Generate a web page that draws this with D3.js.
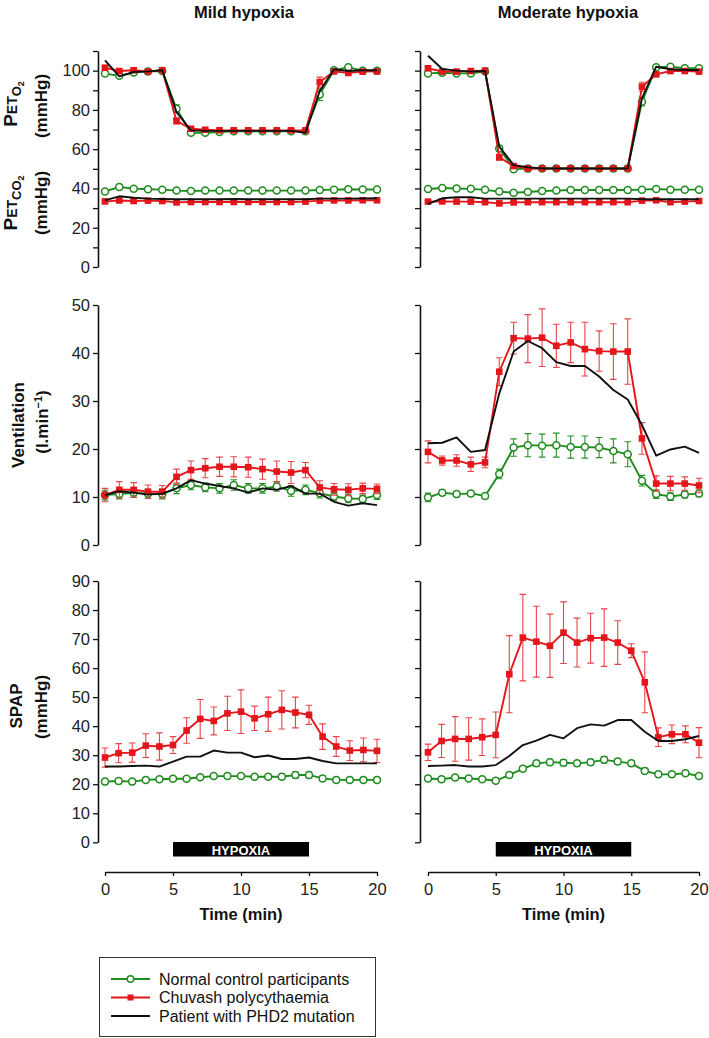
<!DOCTYPE html>
<html><head><meta charset="utf-8">
<script src="https://cdn.jsdelivr.net/npm/d3@7"></script>
<style>
body{margin:0;background:#fff;}
svg{display:block;font-family:"Liberation Sans",Arial,sans-serif;}
</style></head>
<body>
<script>
// ---------- DATA ----------
const timeGas = [0,1.05,2.11,3.16,4.21,5.26,6.32,7.37,8.42,9.47,10.53,11.58,12.63,13.68,14.74,15.79,16.84,17.89,18.95,20];
const timeSpap = [0,1,2,3,4,5,6,7,8,9,10,11,12,13,14,15,16,17,18,19,20];
const xTicks = [0,5,10,15,20];
const columnTitles = ["Mild hypoxia","Moderate hypoxia"];
const seriesNames = ["Normal control participants","Chuvash polycythaemia","Patient with PHD2 mutation"];

// Mild hypoxia
const mildPetO2Control = [98.5,97.4,99,99.6,99.8,80.6,68.4,68.4,68.7,69.1,69.1,69.1,69.1,69.1,69.1,87.8,100.2,101.7,100,100];
const mildPetO2ControlErr = [0.8,0.8,0.6,0.5,0.5,2,0.6,0.5,0.5,0.5,0.5,0.5,0.5,0.5,0.5,3,0.8,0.6,0.5,0.5];
const mildPetO2Chuvash = [101.5,99.8,100.2,99.6,100.2,74.4,70.4,69.9,69.6,69.6,69.6,69.6,69.6,69.6,69.6,94.2,99.6,98.8,99.5,99.6];
const mildPetO2ChuvashErr = [1,0.6,0.5,0.5,0.5,1.5,0.8,0.5,0.5,0.5,0.5,0.5,0.5,0.5,0.5,2.5,0.8,0.6,0.5,0.5];
const mildPetO2Phd2 = [105.2,97.1,99.3,99.6,100.2,78.9,69.6,69.3,69.3,69.3,69.3,69.3,69.3,69.3,68.4,89.6,100.7,99.8,100.2,100.2];

const mildPetCO2Control = [38.5,40.7,39.9,39.6,39.4,38.9,38.7,38.9,38.9,38.9,38.9,38.9,38.9,38.9,38.9,39.2,39.4,39.6,39.5,39.5];
const mildPetCO2ControlErr = [0.6,0.6,0.6,0.5,0.5,0.5,0.5,0.5,0.5,0.5,0.5,0.5,0.5,0.5,0.5,0.5,0.5,0.5,0.5,0.5];
const mildPetCO2Chuvash = [33.4,33.9,33.6,33.8,33.6,32.9,33.1,33.1,33.1,33.1,33.1,33.1,33.1,33.1,33.3,33.8,33.9,33.9,34,34];
const mildPetCO2ChuvashErr = [0.6,0.6,0.6,0.5,0.5,0.5,0.5,0.5,0.5,0.5,0.5,0.5,0.5,0.5,0.5,0.5,0.5,0.5,0.5,0.5];
const mildPetCO2Phd2 = [33.9,36,35.3,34.8,34.6,34.5,34.5,34.5,34.5,34.6,34.5,34.5,34.5,34.5,34.5,34.8,34.8,34.8,34.9,35];

const mildVentControl = [10.4,10.6,10.9,10.7,10.6,11.8,12.5,12,11.8,12.5,11.8,11.8,12.2,11.25,11.5,10.8,10.1,9.7,9.6,10.4];
const mildVentControlErr = [1,1,1,0.9,1,1.1,1,0.9,1,1.1,1,1,1,1.1,1,1,0.9,0.9,0.8,0.9];
const mildVentChuvash = [10.4,11.5,11.5,11.1,11.1,14.2,15.6,16,16.3,16.3,16.2,15.8,15.3,15.1,15.6,12,11.6,11.5,11.8,11.7];
const mildVentChuvashErr = [1.4,1.7,1.5,1.4,1.3,1.6,1.9,2,2,2.1,2.1,2.1,2.2,2.3,1.6,1.4,1.2,1.25,1.1,1];
const mildVentPhd2 = [10.4,11.2,10.9,10.5,10.7,11.8,13.5,12.8,12.3,11.8,10.9,11.8,11.5,12.3,10.7,10.7,9,8.2,8.7,8.3];

const mildSpapControl = [20.9,21.1,20.9,21.5,21.7,21.9,21.9,22.4,22.8,22.8,22.8,22.6,22.6,22.6,23.2,23.2,22,21.5,21.5,21.5,21.5];
const mildSpapControlErr = [0.8,0.9,0.7,0.7,0.7,0.7,0.7,0.7,0.7,0.7,0.7,0.7,0.8,0.9,1,1,0.8,0.7,0.7,0.7,0.7];
const mildSpapChuvash = [29.2,30.7,30.9,33.3,33,33.5,38.5,42.5,41.8,44.4,45,42.7,44.1,45.6,44.7,43.9,36.4,33,31.6,31.8,31.5];
const mildSpapChuvashErr = [3.3,3.3,3.3,4.1,4.7,2.9,4.4,6.7,4.8,5.9,7.5,4.2,5.9,6.6,5.3,3.3,4.4,3.4,3.4,4.1,4];
const mildSpapPhd2 = [26.1,26.1,26.3,26.4,26.1,27.8,29.5,29.5,31.6,30.9,30.9,29.3,29.9,28.7,28.7,29.2,28,27.2,27.2,27.2,27.2];

// Moderate hypoxia
const modPetO2Control = [98.6,98.9,98.6,98.6,99.5,60.4,49.8,50.1,50.2,50.2,50.2,50.2,50.2,50.2,50.2,84.2,101.7,102,101.2,101.2];
const modPetO2ControlErr = [0.8,0.6,0.5,0.5,0.5,1.5,0.6,0.5,0.5,0.5,0.5,0.5,0.5,0.5,0.5,2.2,0.6,0.5,0.5,0.5];
const modPetO2Chuvash = [101.2,99.5,99.5,99.8,100,55.9,51.4,50.2,50.2,50.2,50.2,50.2,50.2,50.2,50.2,91.8,98.1,99.8,99.8,99.5];
const modPetO2ChuvashErr = [1,0.6,0.5,0.5,0.5,1.5,0.8,0.5,0.5,0.5,0.5,0.5,0.5,0.5,0.5,2.3,0.8,0.5,0.5,0.5];
const modPetO2Phd2 = [107.6,100.8,100,99.5,99.8,61.3,51.9,50.8,50.2,50.2,50.2,50.2,50.2,50.2,50.2,85.9,102,100.7,100.3,100.3];

const modPetCO2Control = [39.7,40.2,40,39.8,39.3,38.4,37.8,38.2,38.7,38.9,39.2,39.2,39.2,39.2,39.2,39.4,39.7,39.4,39.4,39.4];
const modPetCO2ControlErr = [0.6,0.6,0.5,0.5,0.5,0.5,0.5,0.5,0.5,0.5,0.5,0.5,0.5,0.5,0.5,0.5,0.5,0.5,0.5,0.5];
const modPetCO2Chuvash = [33.3,33.4,33.3,33.3,33,32.4,32.9,33,33,33,33,33,33,33,33,33.8,34,33,33.3,33.6];
const modPetCO2ChuvashErr = [0.6,0.6,0.5,0.5,0.5,0.5,0.5,0.5,0.5,0.5,0.5,0.5,0.5,0.5,0.5,0.5,0.5,0.5,0.5,0.5];
const modPetCO2Phd2 = [32.1,35,35.5,35.5,34.8,34.8,34.8,34.8,34.8,34.8,34.8,34.8,34.8,34.8,34.8,34.5,34.5,34.5,34.5,34.5];

const modVentControl = [9.9,10.9,10.6,10.75,10.2,14.8,20.3,20.8,20.7,20.8,20.4,20.4,20.3,19.6,18.9,13.4,10.6,10.1,10.5,10.75];
const modVentControlErr = [0.9,0.6,0.5,0.5,0.5,1,1.8,2.4,2.4,2.5,2.3,2.3,2.1,2.5,2.6,1.1,0.9,0.8,0.7,0.7];
const modVentChuvash = [19.4,17.6,17.6,16.8,17.2,36.1,43.1,43,43.2,41.5,42.2,40.8,40.4,40.3,40.3,22.2,12.8,12.8,12.8,12.4];
const modVentChuvashErr = [2.3,0.95,1.2,1.5,1.1,2.9,3.3,5,6,4.5,4.2,5.6,4.2,5.8,6.8,3.3,1.6,1.5,1.4,1.5];
const modVentPhd2 = [21.2,21.3,22.4,19.4,19.8,31.6,40.3,42.5,41,38.1,37.3,37.3,35.1,32.3,30.3,25,18.6,19.9,20.5,19.2];

const modSpapControl = [22,21.7,22.3,22,21.7,21.2,23.2,25.3,27.2,27.6,27.4,27.2,27.6,28.4,27.8,27.2,24.6,23.4,23.4,23.8,22.8];
const modSpapControlErr = [0.8,0.8,0.7,0.7,0.7,0.7,0.8,0.9,1,1,1,1,1,1.1,1,1,0.9,0.8,0.8,0.8,0.8];
const modSpapChuvash = [31,34.9,35.6,35.6,36.2,37,57.9,70.5,69.1,67.7,72.2,68.8,70.3,70.5,68.8,66,55.1,36.2,37.2,37.2,34.3];
const modSpapChuvashErr = [2.8,5.7,7.7,7.3,6.3,7.9,13.3,14.9,12.2,10.9,10.6,8.4,8.6,9.9,7.5,2.4,10.5,3.2,3.2,2.9,5.2];
const modSpapPhd2 = [26.3,26.4,26.6,26.1,26.1,26.6,29.7,33.5,35,37,35.8,39.3,40.6,40.2,42.1,42.1,38.1,34.9,34.9,35.5,36.6];

// ---------- STYLE ----------
const GREEN = "#1e8c1e", RED = "#e3161b", REDERR = "#e8454a", GREENERR = "#2b8f2b", BLACK = "#111";
const W = 709, H = 1038;
const FONT = "'Liberation Sans',Arial,sans-serif";

const svg = d3.select("body").append("svg").attr("width", W).attr("height", H);

const xScales = [
  d3.scaleLinear().domain([0,20]).range([105,377]),
  d3.scaleLinear().domain([0,20]).range([428,699])
];
const axisX = [98, 420];
const rows = [
  {y: d3.scaleLinear().domain([0,110]).range([267,51]), ticks: d3.range(0,111,10), label: v => v % 20 === 0 ? v : ""},
  {y: d3.scaleLinear().domain([0,50]).range([545,305]), ticks: d3.range(0,51,10), label: v => v},
  {y: d3.scaleLinear().domain([0,90]).range([842.3,581]), ticks: d3.range(0,91,10), label: v => v}
];

const panels = [
  [
    [
      {t: timeGas, ctrl: mildPetO2Control, ctrlE: mildPetO2ControlErr, chu: mildPetO2Chuvash, chuE: mildPetO2ChuvashErr, phd: mildPetO2Phd2},
      {t: timeGas, ctrl: mildPetCO2Control, ctrlE: mildPetCO2ControlErr, chu: mildPetCO2Chuvash, chuE: mildPetCO2ChuvashErr, phd: mildPetCO2Phd2}
    ],
    [
      {t: timeGas, ctrl: modPetO2Control, ctrlE: modPetO2ControlErr, chu: modPetO2Chuvash, chuE: modPetO2ChuvashErr, phd: modPetO2Phd2},
      {t: timeGas, ctrl: modPetCO2Control, ctrlE: modPetCO2ControlErr, chu: modPetCO2Chuvash, chuE: modPetCO2ChuvashErr, phd: modPetCO2Phd2}
    ]
  ],
  [
    [{t: timeGas, ctrl: mildVentControl, ctrlE: mildVentControlErr, chu: mildVentChuvash, chuE: mildVentChuvashErr, phd: mildVentPhd2}],
    [{t: timeGas, ctrl: modVentControl, ctrlE: modVentControlErr, chu: modVentChuvash, chuE: modVentChuvashErr, phd: modVentPhd2}]
  ],
  [
    [{t: timeSpap, ctrl: mildSpapControl, ctrlE: mildSpapControlErr, chu: mildSpapChuvash, chuE: mildSpapChuvashErr, phd: mildSpapPhd2}],
    [{t: timeSpap, ctrl: modSpapControl, ctrlE: modSpapControlErr, chu: modSpapChuvash, chuE: modSpapChuvashErr, phd: modSpapPhd2}]
  ]
];

// Titles
[244, 568].forEach((cx, i) => {
  svg.append("text").attr("x", cx).attr("y", 18).attr("text-anchor","middle")
    .attr("font-size", 16.5).attr("font-weight","bold").attr("fill","#111").text(columnTitles[i]);
});

// Y axes
rows.forEach((row, ri) => {
  [0,1].forEach(ci => {
    const ax = d3.axisLeft(row.y).tickValues(row.ticks).tickSize(5).tickSizeOuter(0).tickPadding(3)
      .tickFormat(ci === 0 ? row.label : () => "");
    const g = svg.append("g").attr("transform", `translate(${axisX[ci]},0)`).call(ax);
    g.attr("font-family", FONT).attr("font-size", 16.5);
    g.select(".domain").attr("stroke","#111").attr("stroke-width",1.6);
    g.selectAll(".tick line").attr("stroke","#111").attr("stroke-width",1.3);
    g.selectAll(".tick text").attr("font-size",16.5).attr("fill","#222");
  });
});

function errPath(x, y, p, cap) {
  const xc = x(p.t), y1 = y(p.v + p.e), y2 = y(p.v - p.e);
  return `M${xc-cap},${y1}H${xc+cap}M${xc},${y1}V${y2}M${xc-cap},${y2}H${xc+cap}`;
}

function drawGroup(g, x, y, d) {
  const ctrl = d.t.map((t,i) => ({t, v: d.ctrl[i], e: d.ctrlE[i]}));
  const chu = d.t.map((t,i) => ({t, v: d.chu[i], e: d.chuE[i]}));
  const phd = d.t.map((t,i) => ({t, v: d.phd[i]}));
  const line = d3.line().x(p => x(p.t)).y(p => y(p.v));
  const cap = 3.3;

  const gc = g.append("g");
  gc.selectAll("path.err").data(ctrl).join("path").attr("class","err")
    .attr("d", p => errPath(x, y, p, cap))
    .attr("stroke", GREENERR).attr("stroke-width",1.1).attr("fill","none");
  gc.append("path").datum(ctrl).attr("d", line).attr("fill","none").attr("stroke",GREEN).attr("stroke-width",1.9);
  gc.selectAll("circle").data(ctrl).join("circle").attr("cx", p => x(p.t)).attr("cy", p => y(p.v)).attr("r",3.5)
    .attr("fill","#fff").attr("stroke",GREEN).attr("stroke-width",1.5);

  const gr = g.append("g");
  gr.selectAll("path.err").data(chu).join("path").attr("class","err")
    .attr("d", p => errPath(x, y, p, cap))
    .attr("stroke", REDERR).attr("stroke-width",1.1).attr("fill","none");
  gr.append("path").datum(chu).attr("d", line).attr("fill","none").attr("stroke",RED).attr("stroke-width",1.9);
  const s = 6.6;
  gr.selectAll("rect").data(chu).join("rect").attr("x", p => x(p.t)-s/2).attr("y", p => y(p.v)-s/2)
    .attr("width", s).attr("height", s).attr("fill",RED);

  g.append("path").datum(phd).attr("d", line).attr("fill","none").attr("stroke",BLACK).attr("stroke-width",1.9)
    .attr("stroke-linejoin","round");
}

panels.forEach((row, ri) => {
  row.forEach((groups, ci) => {
    const g = svg.append("g");
    groups.forEach(d => drawGroup(g, xScales[ci], rows[ri].y, d));
  });
});

// Hypoxia bars and X axes
xScales.forEach((x, ci) => {
  svg.append("rect").attr("x", x(5)).attr("y", 842).attr("width", x(15)-x(5)).attr("height", 14.5).attr("fill","#000");
  svg.append("text").attr("x", (x(5)+x(15))/2).attr("y", 854.5).attr("text-anchor","middle")
    .attr("font-size",13).attr("font-weight","bold").attr("fill","#fff").text("HYPOXIA");
  const ax = d3.axisBottom(x).tickValues(xTicks).tickSize(4).tickSizeOuter(0).tickPadding(7);
  const g = svg.append("g").attr("transform","translate(0,872)").call(ax);
  g.attr("font-family", FONT).attr("font-size", 16.5);
  g.select(".domain").attr("stroke","#111").attr("stroke-width",1.6);
  g.selectAll(".tick line").attr("stroke","#111").attr("stroke-width",1.3);
  g.selectAll(".tick text").attr("font-size",16.5).attr("fill","#222");
  svg.append("text").attr("x", (x(0)+x(20))/2).attr("y", 920).attr("text-anchor","middle")
    .attr("font-size",16.5).attr("font-weight","bold").attr("fill","#111").text("Time (min)");
});

// Y-axis labels (rotated)
function rotLabel(x, y) {
  return svg.append("text").attr("transform", `translate(${x},${y}) rotate(-90)`)
    .attr("text-anchor","middle").attr("font-weight","bold").attr("font-size",17).attr("fill","#111");
}
function gasLabel(x, y, sub) {
  const t = rotLabel(x, y);
  t.append("tspan").attr("font-size",19).text("P");
  t.append("tspan").attr("font-size",14).text("ET");
  t.append("tspan").attr("font-size",13).attr("dy",4).text(sub);
  t.append("tspan").attr("font-size",9).attr("dy",3).text("2");
}
gasLabel(17, 104, "O");
rotLabel(47, 106).text("(mmHg)");
gasLabel(17, 203, "CO");
rotLabel(47, 203).text("(mmHg)");
rotLabel(24, 425).text("Ventilation");
const vl = rotLabel(48, 422);
vl.append("tspan").text("(l.min");
vl.append("tspan").attr("font-size",11).attr("dy",-6).text("−1");
vl.append("tspan").attr("dy",6).text(")");
rotLabel(22, 706).text("SPAP");
rotLabel(47, 707).text("(mmHg)");

// Legend
const lg = svg.append("g");
lg.append("rect").attr("x",99.5).attr("y",957.5).attr("width",276).attr("height",79)
  .attr("fill","#fff").attr("stroke","#333").attr("stroke-width",1);
const legY = [979, 997.5, 1016];
const legColors = [GREEN, RED, BLACK];
seriesNames.forEach((name, i) => {
  lg.append("line").attr("x1",111).attr("x2",150).attr("y1",legY[i]).attr("y2",legY[i])
    .attr("stroke",legColors[i]).attr("stroke-width",1.9);
  if (i === 0) lg.append("circle").attr("cx",130.5).attr("cy",legY[i]).attr("r",3.2).attr("fill","#fff").attr("stroke",GREEN).attr("stroke-width",1.4);
  if (i === 1) lg.append("rect").attr("x",127.5).attr("y",legY[i]-3).attr("width",6).attr("height",6).attr("fill",RED);
  lg.append("text").attr("x",159).attr("y",legY[i]+5.5).attr("font-size",16).attr("fill","#111").text(name);
});
</script>
</body></html>
